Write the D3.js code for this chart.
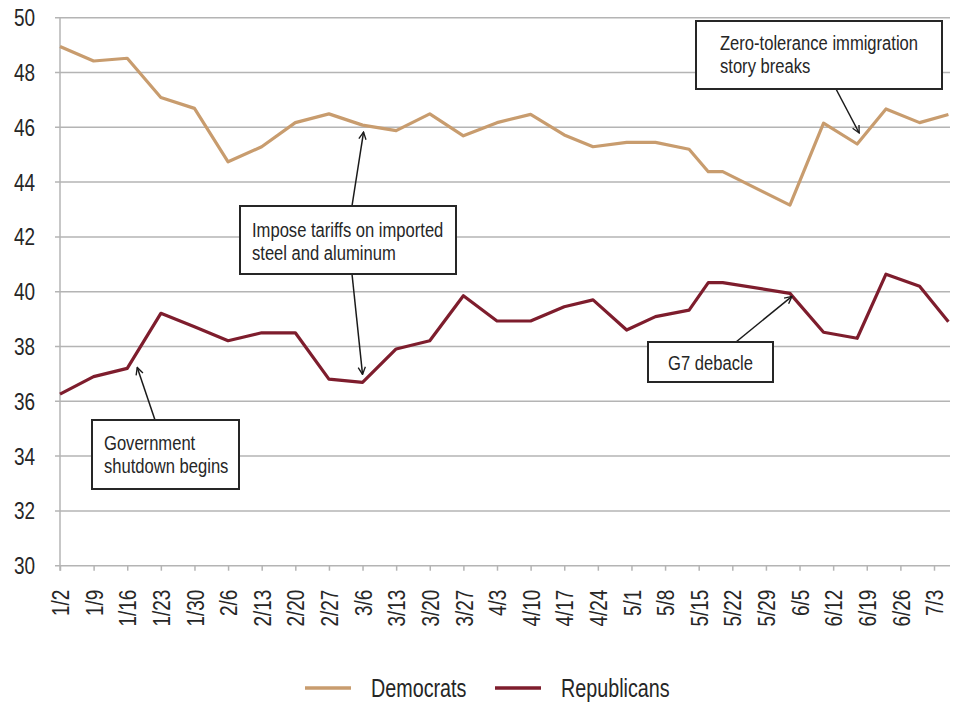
<!DOCTYPE html>
<html>
<head>
<meta charset="utf-8">
<script src="https://cdn.jsdelivr.net/npm/d3@7"></script>
<style>
  body { margin: 0; background: #fff; }
  svg { display: block; }
  text { font-family: 'Liberation Sans', Arial, sans-serif; fill: #262626; }
</style>
</head>
<body>
<div id="chart"></div>
<script>
// poll dates (2018) and shares
var dates = ["1/2","1/9","1/16","1/23","1/30","2/6","2/13","2/20","2/27","3/6","3/13","3/20","3/27",
  "4/3","4/10","4/17","4/23","4/30","5/6","5/13","5/17","5/20","6/3","6/10","6/17","6/23","6/30","7/6"];
var democrats = [48.95,48.42,48.52,47.09,46.69,44.74,45.29,46.17,46.49,46.08,45.88,46.49,45.69,
  46.17,46.47,45.72,45.29,45.45,45.45,45.2,44.38,44.38,43.16,46.15,45.39,46.67,46.17,46.47];
var republicans = [36.26,36.9,37.2,39.21,38.72,38.21,38.5,38.5,36.81,36.69,37.91,38.21,39.85,
  38.93,38.93,39.45,39.7,38.6,39.09,39.33,40.33,40.33,39.94,38.52,38.3,40.64,40.2,38.9];
var tickLabels = ["1/2","1/9","1/16","1/23","1/30","2/6","2/13","2/20","2/27","3/6","3/13","3/20","3/27",
  "4/3","4/10","4/17","4/24","5/1","5/8","5/15","5/22","5/29","6/5","6/12","6/19","6/26","7/3"];
var yTicks = [30,32,34,36,38,40,42,44,46,48,50];

function parse(s) { var p = s.split("/"); return new Date(Date.UTC(2018, +p[0]-1, +p[1])); }

var W = 958, H = 702;
var mLeft = 60, mTop = 17.7, mBottom = 565.7, mRight = 950;
var pxPerDay = 874/182;
var SX = 0.79; // squeeze text to look like a condensed face

var svg = d3.select("#chart").append("svg").attr("width", W).attr("height", H);

var x = d3.scaleUtc()
  .domain([parse("1/2"), parse("7/6")])
  .range([mLeft, mLeft + 185*pxPerDay]);
var y = d3.scaleLinear().domain([30, 50]).range([mBottom, mTop]);

// places a condensed text at (px, py)
function ctext(g, px, py, str, size, anchor) {
  return g.append("text")
    .attr("transform", "translate(" + px + "," + py + ") scale(" + SX + ",1)")
    .attr("text-anchor", anchor || "start")
    .attr("font-size", size).text(str);
}

// grid
svg.append("g").selectAll("line").data(yTicks).join("line")
  .attr("x1", mLeft - 5).attr("x2", mRight)
  .attr("y1", d => y(d)).attr("y2", d => y(d))
  .attr("stroke", "#b4b4b4").attr("stroke-width", 1.5);
svg.append("line").attr("x1", mLeft).attr("x2", mLeft).attr("y1", mTop).attr("y2", mBottom + 5)
  .attr("stroke", "#b4b4b4").attr("stroke-width", 1.5);

var gy = svg.append("g");
yTicks.forEach(function(t) {
  ctext(gy, 35, y(t) + 8.5, t, 24, "end");
});

// x axis
var xAxis = d3.axisBottom(x).tickValues(tickLabels.map(parse))
  .tickFormat((d, i) => tickLabels[i]).tickSize(5).tickSizeOuter(0);
var gx = svg.append("g").attr("transform", "translate(0," + mBottom + ")").call(xAxis);
gx.select(".domain").remove();
gx.selectAll(".tick line").attr("stroke", "#b4b4b4").attr("stroke-width", 1.5);
gx.selectAll(".tick text")
  .attr("transform", "rotate(-90) scale(" + SX + ",1)")
  .attr("x", -24 / SX).attr("y", 0).attr("dy", "0.36em")
  .attr("text-anchor", "end")
  .attr("font-size", 24)
  .attr("font-family", null)
  .attr("fill", "#262626");

// lines
var line = d3.line().x((d, i) => x(parse(dates[i]))).y(d => y(d));
svg.append("path").datum(democrats).attr("d", line)
  .attr("fill", "none").attr("stroke", "#c89c6e").attr("stroke-width", 3.2).attr("stroke-linejoin", "round");
svg.append("path").datum(republicans).attr("d", line)
  .attr("fill", "none").attr("stroke", "#7e1d2d").attr("stroke-width", 3.2).attr("stroke-linejoin", "round");

// annotations
svg.append("defs").append("marker")
  .attr("id", "arr").attr("viewBox", "0 0 10 10").attr("refX", 9).attr("refY", 5)
  .attr("markerWidth", 9).attr("markerHeight", 9).attr("markerUnits", "userSpaceOnUse")
  .attr("orient", "auto")
  .append("path").attr("d", "M1,1 L9,5 L1,9").attr("fill", "none").attr("stroke", "#1a1a1a").attr("stroke-width", 1.5);

var boxes = [
  { x: 696, y: 21, w: 246, h: 68, lines: ["Zero-tolerance immigration", "story breaks"], tx: 720, ty: 50, anchor: "start" },
  { x: 240, y: 206, w: 216, h: 68, lines: ["Impose tariffs on imported", "steel and aluminum"], tx: 252, ty: 237, anchor: "start" },
  { x: 92, y: 420, w: 147, h: 69, lines: ["Government", "shutdown begins"], tx: 104, ty: 449.5, anchor: "start" },
  { x: 648, y: 342, w: 125, h: 40, lines: ["G7 debacle"], tx: 710.5, ty: 370, anchor: "middle" }
];
var arrows = [
  { x0: 836, y0: 89, series: democrats, date: "6/17", dx: 2, dy: -11 },
  { x0: 352, y0: 206, series: democrats, date: "3/6", dx: 1, dy: 7 },
  { x0: 352, y0: 274, series: republicans, date: "3/6", dx: 0, dy: -8 },
  { x0: 155, y0: 420, series: republicans, date: "1/16", dx: 10, dy: -1 },
  { x0: 736, y0: 342, series: republicans, date: "6/3", dx: 2, dy: 3 }
];

svg.append("g").selectAll("line").data(arrows).join("line")
  .attr("x1", d => d.x0).attr("y1", d => d.y0)
  .attr("x2", d => x(parse(d.date)) + d.dx)
  .attr("y2", d => y(d.series[dates.indexOf(d.date)]) + d.dy)
  .attr("stroke", "#1a1a1a").attr("stroke-width", 1.5).attr("marker-end", "url(#arr)");

var bg = svg.append("g").selectAll("g").data(boxes).join("g");
bg.append("rect").attr("x", d => d.x).attr("y", d => d.y).attr("width", d => d.w).attr("height", d => d.h)
  .attr("fill", "#fff").attr("stroke", "#262626").attr("stroke-width", 2);
bg.each(function(d) {
  var g = d3.select(this);
  d.lines.forEach(function(t, i) {
    ctext(g, d.tx, d.ty + i*23, t, 21, d.anchor);
  });
});

// legend
var legend = [
  { name: "Democrats", color: "#c89c6e", x: 305 },
  { name: "Republicans", color: "#7e1d2d", x: 495 }
];
var lg = svg.append("g");
legend.forEach(function(d) {
  lg.append("line").attr("x1", d.x).attr("x2", d.x + 46).attr("y1", 688).attr("y2", 688)
    .attr("stroke", d.color).attr("stroke-width", 3.5);
  ctext(lg, d.x + 66, 697, d.name, 25, "start");
});
</script>
</body>
</html>
